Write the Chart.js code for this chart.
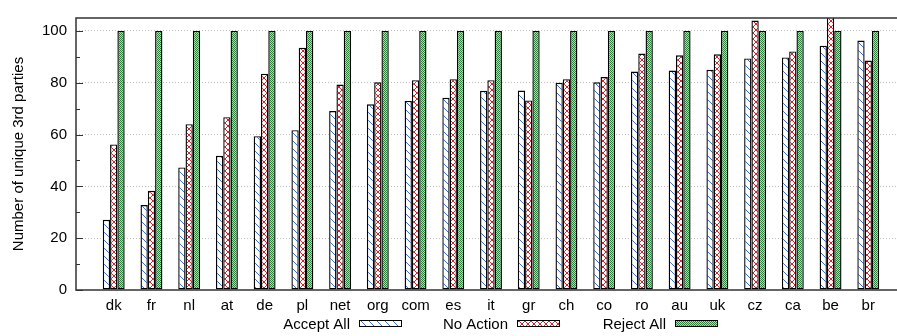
<!DOCTYPE html>
<html>
<head>
<meta charset="utf-8">
<script src="https://cdn.jsdelivr.net/npm/chart.js@4.4.1/dist/chart.umd.min.js"></script>
<style>
  html, body { margin: 0; padding: 0; background: #fff; overflow: hidden; }
  #wrap { position: relative; width: 906px; height: 336px; }
</style>
</head>
<body>
<div id="wrap"><canvas id="chart"></canvas></div>
<script>
// Data
const categories = ['dk', 'fr', 'nl', 'at', 'de', 'pl', 'net', 'org', 'com', 'es', 'it',
  'gr', 'ch', 'co', 'ro', 'au', 'uk', 'cz', 'ca', 'be', 'br'];
const acceptAll = [27.1, 32.8, 47.3, 51.8, 59.4, 61.7, 69.1, 71.7, 73.0, 74.2, 76.9,
  77.0, 80.0, 80.2, 84.3, 84.7, 85.0, 89.4, 89.8, 94.3, 96.3];
const noAction = [56.2, 38.3, 64.0, 66.7, 83.5, 93.5, 79.3, 80.2, 81.0, 81.4, 81.0,
  73.2, 81.4, 82.2, 91.3, 90.6, 91.0, 104.0, 92.1, 108.0, 88.6];
const rejectAll = [100, 100, 100, 100, 100, 100, 100, 100, 100, 100, 100,
  100, 100, 100, 100, 100, 100, 100, 100, 100, 100];
const seriesNames = ['Accept All', 'No Action', 'Reject All'];
const yTicks = [0, 20, 40, 60, 80, 100];
const yMinorTicks = [10, 30, 50, 70, 90];

Chart.defaults.font.family = '"Liberation Sans", Arial, Helvetica, sans-serif';
Chart.defaults.font.size = 15;
Chart.defaults.color = '#000';

const canvas = document.getElementById('chart');
const mainCtx = canvas.getContext('2d');

// build a repeating fill from a small tile
function makePattern(size, draw) {
  const tile = document.createElement('canvas');
  tile.width = size;
  tile.height = size;
  const g = tile.getContext('2d');
  draw(g, size);
  return mainCtx.createPattern(tile, 'repeat');
}

const hatchBlue = makePattern(8, (g, s) => {
  g.fillStyle = '#fff';
  g.fillRect(0, 0, s, s);
  g.fillStyle = '#3d6cc9';
  for (let i = 0; i < s; i++) g.fillRect(i, i, 1, 1);
});

const crossRed = makePattern(6, (g, s) => {
  g.fillStyle = '#fff';
  g.fillRect(0, 0, s, s);
  g.fillStyle = '#d8222a';
  for (let i = 0; i < s; i++) {
    g.fillRect(i, i, 1, 1);
    g.fillRect(s - 1 - i, i, 1, 1);
  }
});

const checkGreen = makePattern(2, (g) => {
  g.fillStyle = '#b4dcb4';
  g.fillRect(0, 0, 2, 2);
  g.fillStyle = '#2a7f38';
  g.fillRect(0, 0, 1, 1);
  g.fillRect(1, 1, 1, 1);
});

const toPoints = arr => arr.map((v, i) => ({ x: i, y: v }));

// gnuplot style frame with inward y tics
const framePlugin = {
  id: 'frame',
  afterDraw(chart) {
    const { ctx, chartArea: a, scales: { y } } = chart;
    ctx.save();
    ctx.strokeStyle = '#333';
    ctx.lineWidth = 1.5;
    ctx.beginPath();
    ctx.moveTo(a.right + 2, a.top);
    ctx.lineTo(a.left, a.top);
    ctx.lineTo(a.left, a.bottom);
    ctx.lineTo(a.right + 2, a.bottom);
    ctx.stroke();
    ctx.lineWidth = 1;
    ctx.beginPath();
    yTicks.forEach(v => {
      const py = Math.round(y.getPixelForValue(v)) + 0.5;
      ctx.moveTo(a.left, py);
      ctx.lineTo(a.left + 7, py);
    });
    yMinorTicks.forEach(v => {
      const py = Math.round(y.getPixelForValue(v)) + 0.5;
      ctx.moveTo(a.left, py);
      ctx.lineTo(a.left + 4, py);
    });
    ctx.stroke();
    ctx.restore();
  }
};

// legend at the bottom: label text, then sample box to its right
const keyPlugin = {
  id: 'key',
  afterDraw(chart) {
    const { ctx } = chart;
    const firstBox = 359, colWidth = 158, boxW = 43, boxH = 6, boxTop = 320, baseline = 329;
    ctx.save();
    ctx.font = '15px "Liberation Sans", Arial, sans-serif';
    ctx.textAlign = 'right';
    ctx.textBaseline = 'alphabetic';
    ctx.fillStyle = '#000';
    chart.data.datasets.forEach((ds, i) => {
      const bx = firstBox + i * colWidth;
      ctx.fillText(ds.label, bx - 9, baseline);
      ctx.fillStyle = ds.backgroundColor;
      ctx.fillRect(bx, boxTop, boxW, boxH);
      ctx.strokeStyle = '#000';
      ctx.lineWidth = 1;
      ctx.strokeRect(bx + 0.5, boxTop + 0.5, boxW - 1, boxH);
      ctx.fillStyle = '#000';
    });
    ctx.restore();
  }
};

const barStyle = {
  borderColor: '#000',
  borderWidth: 1.4,
  borderSkipped: false,
  barPercentage: 1.0,
  categoryPercentage: 0.58
};

new Chart(canvas, {
  type: 'bar',
  data: {
    datasets: [
      { label: seriesNames[0], data: toPoints(acceptAll), backgroundColor: hatchBlue, ...barStyle },
      { label: seriesNames[1], data: toPoints(noAction), backgroundColor: crossRed, ...barStyle },
      { label: seriesNames[2], data: toPoints(rejectAll), backgroundColor: checkGreen, ...barStyle }
    ]
  },
  options: {
    responsive: true,
    maintainAspectRatio: false,
    animation: false,
    layout: { padding: { top: 6, left: 0, right: 0, bottom: 0 } },
    plugins: {
      legend: { display: false },
      tooltip: { enabled: false }
    },
    scales: {
      x: {
        type: 'linear',
        min: -1,
        max: 21,
        offset: false,
        afterBuildTicks: scale => { scale.ticks = categories.map((_, i) => ({ value: i })); },
        afterFit: scale => { scale.height = 46; },
        ticks: {
          autoSkip: false,
          maxRotation: 0,
          padding: 7,
          callback: (value, index) => categories[index]
        },
        grid: { display: false, drawTicks: false },
        border: { display: false }
      },
      y: {
        min: 0,
        max: 105,
        afterBuildTicks: scale => { scale.ticks = yTicks.map(v => ({ value: v })); },
        afterFit: scale => { scale.width = 76; },
        ticks: { padding: 9 },
        grid: {
          drawTicks: false,
          color: c => (c.tick && c.tick.value === 0 ? 'rgba(0,0,0,0)' : '#bdbdbd'),
          lineWidth: 1
        },
        border: { display: false, dash: [1, 2] },
        title: {
          display: true,
          text: 'Number of unique 3rd parties',
          padding: { top: 10, bottom: 0 },
          font: { size: 15 }
        }
      }
    }
  },
  plugins: [framePlugin, keyPlugin]
});
</script>
</body>
</html>
